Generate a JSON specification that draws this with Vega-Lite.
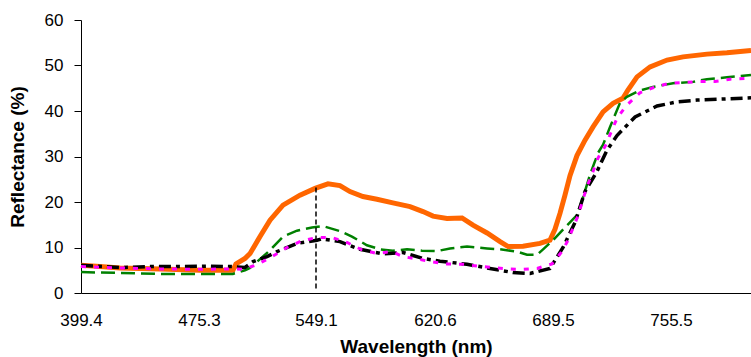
{
  "$schema": "https://vega.github.io/schema/vega-lite/v6.json",
  "width": 670,
  "height": 273,
  "autosize": {"type": "none"},
  "padding": {"left": 81, "top": 20, "right": 0, "bottom": 64},
  "background": "white",
  "config": {"view": {"stroke": null}, "font": "Liberation Sans"},
  "datasets": {
    "spectra": [
      {"s": "orange", "wl": 399.4, "r": 6.1}, {"s": "orange", "wl": 411.6, "r": 5.8}, {"s": "orange", "wl": 424.5, "r": 5.5}, {"s": "orange", "wl": 450.2, "r": 5.3}, {"s": "orange", "wl": 475.9, "r": 5.0}, {"s": "orange", "wl": 496.7, "r": 5.0}, {"s": "orange", "wl": 498.6, "r": 6.4}, {"s": "orange", "wl": 504.3, "r": 7.6}, {"s": "orange", "wl": 507.5, "r": 8.7}, {"s": "orange", "wl": 513.8, "r": 12.4}, {"s": "orange", "wl": 520.1, "r": 16.0}, {"s": "orange", "wl": 528.3, "r": 19.3}, {"s": "orange", "wl": 539.0, "r": 21.5}, {"s": "orange", "wl": 548.5, "r": 23.0}, {"s": "orange", "wl": 556.3, "r": 24.0}, {"s": "orange", "wl": 563.5, "r": 23.6}, {"s": "orange", "wl": 569.5, "r": 22.3}, {"s": "orange", "wl": 577.3, "r": 21.2}, {"s": "orange", "wl": 585.7, "r": 20.6}, {"s": "orange", "wl": 595.3, "r": 19.8}, {"s": "orange", "wl": 605.6, "r": 19.0}, {"s": "orange", "wl": 613.4, "r": 17.9}, {"s": "orange", "wl": 619.4, "r": 16.9}, {"s": "orange", "wl": 627.6, "r": 16.4}, {"s": "orange", "wl": 636.4, "r": 16.5}, {"s": "orange", "wl": 642.8, "r": 14.9}, {"s": "orange", "wl": 651.0, "r": 13.2}, {"s": "orange", "wl": 658.6, "r": 11.3}, {"s": "orange", "wl": 663.3, "r": 10.2}, {"s": "orange", "wl": 672.0, "r": 10.3}, {"s": "orange", "wl": 681.9, "r": 10.9}, {"s": "orange", "wl": 687.7, "r": 11.6}, {"s": "orange", "wl": 690.6, "r": 14.0}, {"s": "orange", "wl": 693.4, "r": 17.5}, {"s": "orange", "wl": 696.2, "r": 21.5}, {"s": "orange", "wl": 699.0, "r": 25.8}, {"s": "orange", "wl": 702.9, "r": 30.2}, {"s": "orange", "wl": 707.4, "r": 33.6}, {"s": "orange", "wl": 711.9, "r": 36.5}, {"s": "orange", "wl": 717.5, "r": 39.8}, {"s": "orange", "wl": 723.1, "r": 41.7}, {"s": "orange", "wl": 728.6, "r": 42.8}, {"s": "orange", "wl": 731.4, "r": 44.6}, {"s": "orange", "wl": 736.5, "r": 47.5}, {"s": "orange", "wl": 743.8, "r": 49.7}, {"s": "orange", "wl": 753.3, "r": 51.2}, {"s": "orange", "wl": 762.0, "r": 51.9}, {"s": "orange", "wl": 774.9, "r": 52.5}, {"s": "orange", "wl": 785.7, "r": 52.8}, {"s": "orange", "wl": 798.7, "r": 53.3},

      {"s": "green", "wl": 399.4, "r": 4.6}, {"s": "green", "wl": 424.5, "r": 4.4}, {"s": "green", "wl": 450.2, "r": 4.2}, {"s": "green", "wl": 475.9, "r": 4.2}, {"s": "green", "wl": 496.7, "r": 4.2}, {"s": "green", "wl": 504.3, "r": 5.0}, {"s": "green", "wl": 507.5, "r": 5.5}, {"s": "green", "wl": 520.1, "r": 9.4}, {"s": "green", "wl": 528.3, "r": 12.4}, {"s": "green", "wl": 537.1, "r": 13.7}, {"s": "green", "wl": 546.6, "r": 14.4}, {"s": "green", "wl": 553.3, "r": 14.7}, {"s": "green", "wl": 563.5, "r": 13.6}, {"s": "green", "wl": 570.7, "r": 12.4}, {"s": "green", "wl": 579.7, "r": 10.5}, {"s": "green", "wl": 587.6, "r": 9.6}, {"s": "green", "wl": 595.3, "r": 9.3}, {"s": "green", "wl": 603.8, "r": 9.6}, {"s": "green", "wl": 612.8, "r": 9.3}, {"s": "green", "wl": 621.8, "r": 9.2}, {"s": "green", "wl": 629.4, "r": 9.8}, {"s": "green", "wl": 639.3, "r": 10.2}, {"s": "green", "wl": 651.0, "r": 9.8}, {"s": "green", "wl": 658.6, "r": 9.6}, {"s": "green", "wl": 668.5, "r": 9.1}, {"s": "green", "wl": 674.3, "r": 8.4}, {"s": "green", "wl": 680.2, "r": 8.4}, {"s": "green", "wl": 683.7, "r": 9.6}, {"s": "green", "wl": 689.5, "r": 11.6}, {"s": "green", "wl": 696.2, "r": 14.4}, {"s": "green", "wl": 702.9, "r": 17.1}, {"s": "green", "wl": 706.3, "r": 21.0}, {"s": "green", "wl": 710.2, "r": 26.0}, {"s": "green", "wl": 714.7, "r": 30.8}, {"s": "green", "wl": 717.5, "r": 32.6}, {"s": "green", "wl": 721.4, "r": 36.5}, {"s": "green", "wl": 727.0, "r": 41.8}, {"s": "green", "wl": 730.8, "r": 43.1}, {"s": "green", "wl": 738.1, "r": 44.5}, {"s": "green", "wl": 745.4, "r": 45.3}, {"s": "green", "wl": 756.6, "r": 46.1}, {"s": "green", "wl": 767.4, "r": 46.4}, {"s": "green", "wl": 774.9, "r": 47.0}, {"s": "green", "wl": 785.7, "r": 47.4}, {"s": "green", "wl": 798.7, "r": 47.9},

      {"s": "black", "wl": 399.4, "r": 6.1}, {"s": "black", "wl": 424.5, "r": 5.6}, {"s": "black", "wl": 443.8, "r": 5.8}, {"s": "black", "wl": 463.1, "r": 5.8}, {"s": "black", "wl": 482.2, "r": 5.9}, {"s": "black", "wl": 496.7, "r": 5.8}, {"s": "black", "wl": 504.3, "r": 5.6}, {"s": "black", "wl": 509.4, "r": 6.9}, {"s": "black", "wl": 518.2, "r": 8.0}, {"s": "black", "wl": 524.5, "r": 9.1}, {"s": "black", "wl": 537.1, "r": 10.9}, {"s": "black", "wl": 549.7, "r": 11.6}, {"s": "black", "wl": 552.7, "r": 11.9}, {"s": "black", "wl": 563.5, "r": 11.3}, {"s": "black", "wl": 569.5, "r": 10.4}, {"s": "black", "wl": 575.5, "r": 9.6}, {"s": "black", "wl": 589.4, "r": 8.6}, {"s": "black", "wl": 601.3, "r": 8.9}, {"s": "black", "wl": 613.4, "r": 7.6}, {"s": "black", "wl": 623.5, "r": 7.0}, {"s": "black", "wl": 639.3, "r": 6.3}, {"s": "black", "wl": 652.7, "r": 5.4}, {"s": "black", "wl": 666.1, "r": 4.5}, {"s": "black", "wl": 676.1, "r": 4.3}, {"s": "black", "wl": 687.7, "r": 5.4}, {"s": "black", "wl": 695.1, "r": 10.0}, {"s": "black", "wl": 701.8, "r": 15.5}, {"s": "black", "wl": 707.4, "r": 22.3}, {"s": "black", "wl": 714.1, "r": 26.7}, {"s": "black", "wl": 719.7, "r": 31.4}, {"s": "black", "wl": 725.3, "r": 34.6}, {"s": "black", "wl": 735.4, "r": 38.7}, {"s": "black", "wl": 747.7, "r": 41.1}, {"s": "black", "wl": 758.7, "r": 42.0}, {"s": "black", "wl": 769.5, "r": 42.4}, {"s": "black", "wl": 782.0, "r": 42.6}, {"s": "black", "wl": 798.7, "r": 42.9},

      {"s": "magenta", "wl": 399.4, "r": 5.8}, {"s": "magenta", "wl": 424.5, "r": 5.5}, {"s": "magenta", "wl": 450.2, "r": 5.3}, {"s": "magenta", "wl": 475.9, "r": 5.2}, {"s": "magenta", "wl": 496.7, "r": 5.3}, {"s": "magenta", "wl": 503.0, "r": 5.2}, {"s": "magenta", "wl": 511.8, "r": 6.2}, {"s": "magenta", "wl": 521.9, "r": 8.1}, {"s": "magenta", "wl": 530.8, "r": 10.0}, {"s": "magenta", "wl": 540.3, "r": 11.5}, {"s": "magenta", "wl": 549.7, "r": 12.2}, {"s": "magenta", "wl": 558.7, "r": 12.2}, {"s": "magenta", "wl": 567.7, "r": 11.1}, {"s": "magenta", "wl": 576.7, "r": 9.5}, {"s": "magenta", "wl": 585.7, "r": 8.7}, {"s": "magenta", "wl": 594.7, "r": 9.1}, {"s": "magenta", "wl": 601.3, "r": 8.0}, {"s": "magenta", "wl": 609.8, "r": 7.5}, {"s": "magenta", "wl": 617.6, "r": 6.9}, {"s": "magenta", "wl": 627.6, "r": 6.4}, {"s": "magenta", "wl": 636.9, "r": 6.3}, {"s": "magenta", "wl": 645.7, "r": 5.9}, {"s": "magenta", "wl": 653.9, "r": 5.6}, {"s": "magenta", "wl": 663.2, "r": 5.3}, {"s": "magenta", "wl": 671.4, "r": 5.2}, {"s": "magenta", "wl": 680.2, "r": 5.4}, {"s": "magenta", "wl": 688.9, "r": 6.4}, {"s": "magenta", "wl": 694.5, "r": 9.1}, {"s": "magenta", "wl": 697.9, "r": 11.6}, {"s": "magenta", "wl": 703.5, "r": 17.0}, {"s": "magenta", "wl": 708.5, "r": 23.4}, {"s": "magenta", "wl": 711.9, "r": 26.7}, {"s": "magenta", "wl": 714.7, "r": 29.7}, {"s": "magenta", "wl": 718.6, "r": 32.2}, {"s": "magenta", "wl": 725.3, "r": 38.4}, {"s": "magenta", "wl": 730.8, "r": 41.3}, {"s": "magenta", "wl": 738.1, "r": 44.0}, {"s": "magenta", "wl": 746.6, "r": 45.3}, {"s": "magenta", "wl": 754.9, "r": 46.1}, {"s": "magenta", "wl": 763.1, "r": 46.3}, {"s": "magenta", "wl": 771.2, "r": 46.5}, {"s": "magenta", "wl": 779.3, "r": 46.5}, {"s": "magenta", "wl": 787.4, "r": 47.0}, {"s": "magenta", "wl": 798.7, "r": 47.2}
    ],
    "marker": [{"wl": 549.1, "lo": 1, "hi": 23.3}]
  },
  "encoding": {
    "x": {
      "field": "wl", "type": "quantitative",
      "scale": {"type": "linear", "domain": [399.4, 475.3, 549.1, 620.6, 689.5, 755.5, 798.7], "range": [0, 118, 235, 354, 472, 590, 670], "nice": false, "zero": false},
      "axis": {
        "values": [399.4, 475.3, 549.1, 620.6, 689.5, 755.5], "format": ".1f",
        "ticks": false, "tickSize": 0, "grid": false,
        "labelPadding": 19, "labelFontSize": 17, "labelFont": "Liberation Sans", "labelColor": "black",
        "labelFlush": false, "labelOverlap": false, "labelBound": false,
        "domainColor": "black", "domainWidth": 1,
        "title": "Wavelength (nm)", "titleFont": "Liberation Sans", "titleFontSize": 19, "titleFontWeight": "bold", "titleColor": "black",
        "titleX": 335, "titleY": 59, "titleAlign": "center", "titleBaseline": "alphabetic"
      }
    },
    "y": {
      "field": "r", "type": "quantitative",
      "scale": {"domain": [0, 60], "nice": false, "zero": true},
      "axis": {
        "values": [0, 10, 20, 30, 40, 50, 60], "grid": false,
        "tickSize": 7, "tickColor": "black", "tickWidth": 1,
        "labelPadding": 11, "labelFontSize": 17, "labelFont": "Liberation Sans", "labelColor": "black",
        "labelFlush": false, "labelOverlap": false,
        "domainColor": "black", "domainWidth": 1,
        "title": "Reflectance (%)", "titleFont": "Liberation Sans", "titleFontSize": 19, "titleFontWeight": "bold", "titleColor": "black",
        "titleX": -64, "titleY": 136.5, "titleAngle": 270, "titleAlign": "center", "titleBaseline": "middle"
      }
    }
  },
  "layer": [
    {
      "data": {"name": "spectra"},
      "transform": [{"filter": "datum.s === 'orange'"}],
      "mark": {"type": "line", "color": "#FF6600", "strokeWidth": 5}
    },
    {
      "data": {"name": "spectra"},
      "transform": [{"filter": "datum.s === 'green'"}],
      "mark": {"type": "line", "color": "#008000", "strokeWidth": 2.5, "strokeDash": [14, 6]}
    },
    {
      "data": {"name": "spectra"},
      "transform": [{"filter": "datum.s === 'black'"}],
      "mark": {"type": "line", "color": "#000000", "strokeWidth": 3.5, "strokeDash": [12, 5, 4, 5]}
    },
    {
      "data": {"name": "spectra"},
      "transform": [{"filter": "datum.s === 'magenta'"}],
      "mark": {"type": "line", "color": "#FF00FF", "strokeWidth": 3, "strokeDash": [5, 8]}
    },
    {
      "data": {"name": "marker"},
      "mark": {"type": "rule", "color": "#000000", "strokeWidth": 1.5, "strokeDash": [5, 3]},
      "encoding": {
        "y": {"field": "lo", "type": "quantitative", "title": "Reflectance (%)"},
        "y2": {"field": "hi"}
      }
    }
  ]
}
